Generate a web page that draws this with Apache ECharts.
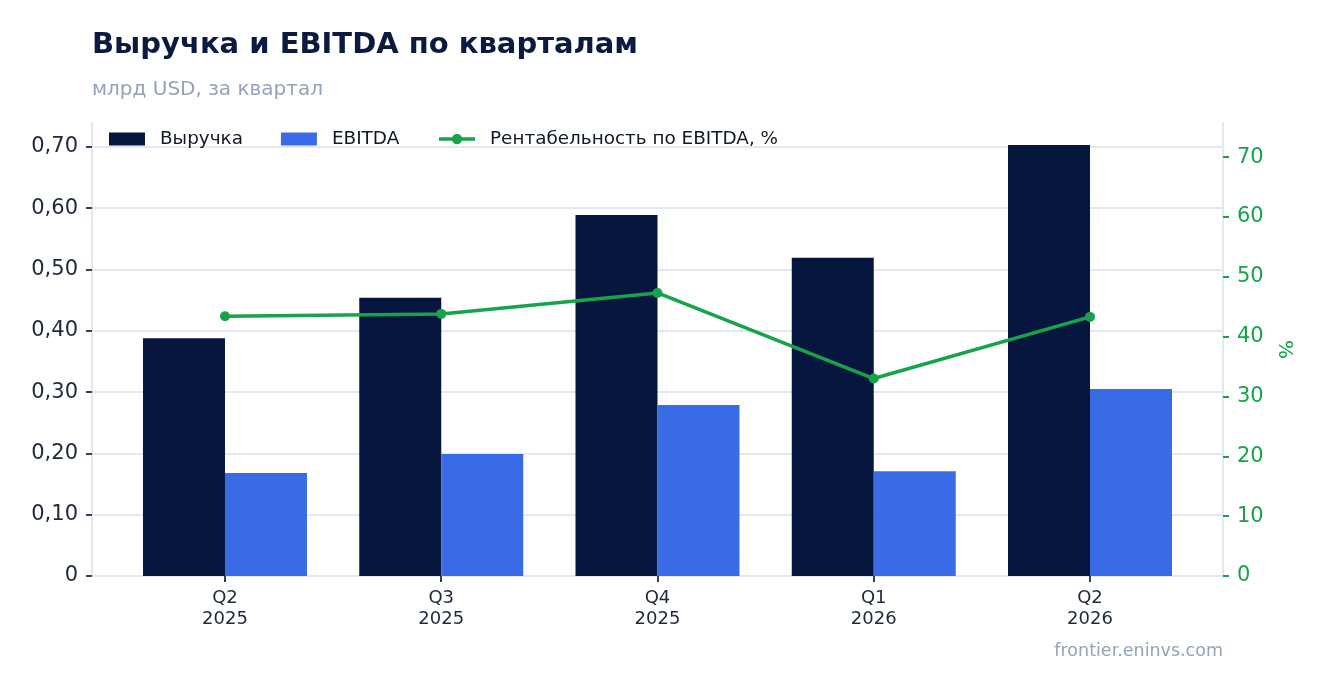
<!DOCTYPE html>
<html><head><meta charset="utf-8">
<script src="https://cdn.jsdelivr.net/npm/echarts@6/dist/echarts.min.js"></script>
<style>html,body{margin:0;padding:0;background:#fff}#c{width:1322px;height:693px}</style>
</head><body><div id="c"></div>
<script>
const categories = ['Q2\n2025', 'Q3\n2025', 'Q4\n2025', 'Q1\n2026', 'Q2\n2026'];
const revenue = [0.388, 0.454, 0.589, 0.519, 0.703];
const ebitda = [0.168, 0.199, 0.279, 0.171, 0.305];
const margin = [43.4, 43.8, 47.3, 33.0, 43.3];
const leftTicks = [0, 0.1, 0.2, 0.3, 0.4, 0.5, 0.6, 0.7];
const rightTicks = [0, 10, 20, 30, 40, 50, 60, 70];

const FONT = 'DejaVu Sans';
const idx = categories.map((_, i) => i);
const chart = echarts.init(document.getElementById('c'), null, {renderer: 'canvas'});
const gridCol = '#e2e8f0';
chart.setOption({
  backgroundColor: '#fff',
  textStyle: {fontFamily: FONT},
  title: [
    {text: 'Выручка и EBITDA по кварталам', left: 87, top: 26,
     textStyle: {fontFamily: FONT, fontSize: 29, fontWeight: 'bold', color: '#0b1a40'}},
    {text: 'млрд USD, за квартал', left: 87, top: 75,
     textStyle: {fontFamily: FONT, fontSize: 20, fontWeight: 'normal', color: '#94a3b8'}}
  ],
  legend: {
    left: 104, top: 125, itemWidth: 36, itemHeight: 13, itemGap: 38,
    textStyle: {fontFamily: FONT, fontSize: 18.4, color: '#111827', padding: [0, 0, 0, 10]},
    data: [
      {name: 'Выручка', icon: 'rect'},
      {name: 'EBITDA', icon: 'rect'},
      {name: 'Рентабельность по EBITDA, %', lineStyle: {width: 3.5, color: '#16a34a'}}
    ]
  },
  grid: {left: 92, right: 99, top: 123, bottom: 117, containLabel: false},
  xAxis: {
    type: 'value', min: -0.615, max: 4.615,
    axisLine: {show: true, onZero: false, lineStyle: {color: gridCol, width: 2}},
    axisTick: {show: true, customValues: idx, length: 6, lineStyle: {color: '#334155', width: 2}},
    axisLabel: {customValues: idx, formatter: v => categories[Math.round(v)] || '',
      fontFamily: FONT, fontSize: 18, color: '#1e293b', lineHeight: 21, margin: 12},
    splitLine: {show: false}
  },
  yAxis: [
    {
      type: 'value', min: 0, max: 0.739, interval: 0.1, position: 'left',
      axisLine: {show: true, onZero: false, lineStyle: {color: gridCol, width: 2}},
      axisTick: {show: true, customValues: leftTicks, length: 6, lineStyle: {color: '#334155', width: 2}},
      axisLabel: {customValues: leftTicks, margin: 14, fontFamily: FONT, fontSize: 21, color: '#1e293b',
        padding: [5, 0, 0, 0],
        formatter: v => Math.abs(v) < 1e-9 ? '0' : v.toFixed(2).replace('.', ',')},
      splitLine: {show: true, lineStyle: {width: 2,
        color: [gridCol, gridCol, gridCol, gridCol, gridCol, gridCol, gridCol, gridCol, 'rgba(0,0,0,0)']}}
    },
    {
      type: 'value', min: 0, max: 75.7, interval: 10, position: 'right',
      name: '%', nameLocation: 'middle', nameGap: 45, nameRotate: -90,
      nameTextStyle: {fontFamily: FONT, fontSize: 20, color: '#16a34a'},
      axisLine: {show: true, onZero: false, lineStyle: {color: gridCol, width: 2}},
      axisTick: {show: true, customValues: rightTicks, length: 6, lineStyle: {color: '#16a34a', width: 2}},
      axisLabel: {customValues: rightTicks, margin: 14, fontFamily: FONT, fontSize: 21, color: '#16a34a',
        padding: [5, 0, 0, 0]},
      splitLine: {show: false}
    }
  ],
  series: [
    {name: 'Выручка', type: 'bar', yAxisIndex: 0, barWidth: 82, barGap: '0%',
     itemStyle: {color: '#06163f'}, data: revenue.map((v, i) => [i, v])},
    {name: 'EBITDA', type: 'bar', yAxisIndex: 0, barWidth: 82, barGap: '0%',
     itemStyle: {color: '#3a6be6'}, data: ebitda.map((v, i) => [i, v])},
    {name: 'Рентабельность по EBITDA, %', type: 'line', yAxisIndex: 1,
     symbol: 'circle', symbolSize: 10, lineStyle: {width: 3.5, color: '#16a34a'},
     itemStyle: {color: '#16a34a'}, z: 5, data: margin.map((v, i) => [i, v])}
  ],
  graphic: [
    {type: 'text', right: 99, top: 642,
     style: {text: 'frontier.eninvs.com', fontFamily: FONT, fontSize: 17.5, fill: '#94a3b8'}}
  ]
});
</script></body></html>
